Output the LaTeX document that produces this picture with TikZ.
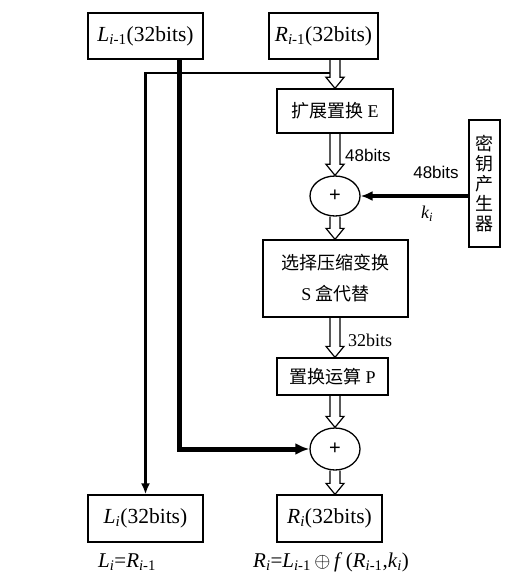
\documentclass[tikz,border=0pt]{standalone}
\usepackage{fontspec}
\setmainfont{Liberation Serif}
\newfontfamily\cjk{Noto Sans CJK SC}
\newfontfamily\arial{Liberation Sans}
\usetikzlibrary{calc,arrows.meta,shapes.geometric}
\tikzset{
  box/.style={draw, line width=1.3pt, inner sep=0pt, align=center, font=\fontsize{21.5}{23}\selectfont},
  cbox/.style={box, font=\cjk\fontsize{18}{31}\selectfont},
  xor/.style={ellipse, draw, line width=1.3pt, minimum width=50pt, minimum height=40pt, inner sep=0pt, font=\arial\fontsize{20}{20}\selectfont},
  hollow/.style={line width=1.2pt, line join=miter},
  thinline/.style={line width=2.5pt},
  thickline/.style={line width=5pt},
  lab/.style={inner sep=0pt, font=\fontsize{18}{20}\selectfont},
  flab/.style={inner sep=0pt, font=\fontsize{21}{22}\selectfont},
  slab/.style={inner sep=0pt, font=\arial\fontsize{17}{20}\selectfont},
}
\newcommand\harrow[2]{%
  \draw[hollow] let \p1=(#1), \p2=(#2) in
  (\x1-5pt,\y1) -- (\x1-5pt,\y2+11pt) -- (\x1-9pt,\y2+11pt) -- (\x1,\y2)
  -- (\x1+9pt,\y2+11pt) -- (\x1+5pt,\y2+11pt) -- (\x1+5pt,\y1);}
\begin{document}
\begin{tikzpicture}[x=1pt,y=-1pt]
\useasboundingbox (0,0) rectangle (524,585);
\coordinate (col) at (335,0);
\coordinate (lt) at (179,0);
\node[box, minimum width=115pt, minimum height=46pt] (Lp) at (145.5,36) {\textit{L}\textsubscript{\textit{i}-1}(32bits)};
\node[box, minimum width=109pt, minimum height=46pt] (Rp) at (323.5,36) {\textit{R}\textsubscript{\textit{i}-1}(32bits)};
\node[cbox, minimum width=116pt, minimum height=44pt] (E) at (335,111) {扩展置换 {\rmfamily E}};
\node[xor] (c1) at (335,196) {+};
\node[cbox, minimum width=31pt, minimum height=127pt, font=\cjk\fontsize{18}{20}\selectfont] (K) at (484.5,183.5) {密\\钥\\产\\生\\器};
\node[cbox, minimum width=145pt, minimum height=77pt] (S) at (335.5,278.5) {选择压缩变换\\{\rmfamily S} 盒代替};
\node[cbox, minimum width=111pt, minimum height=37pt] (P) at (332.5,376.5) {置换运算 {\rmfamily P}};
\node[xor, minimum height=42pt] (c2) at (335,449) {+};
\node[box, minimum width=115pt, minimum height=47pt] (Li) at (145.5,518.5) {\textit{L}\textsubscript{\textit{i}}(32bits)};
\node[box, minimum width=105pt, minimum height=47pt] (Ri) at (329.5,518.5) {\textit{R}\textsubscript{\textit{i}}(32bits)};
% hollow arrows
\harrow{Rp.south -| col}{E.north -| col}
\harrow{E.south -| col}{c1.north}
\harrow{c1.south}{S.north -| col}
\harrow{S.south -| col}{P.north -| col}
\harrow{P.south -| col}{c2.north}
\harrow{c2.south}{Ri.north -| col}
% thin line to L_i
\coordinate (tap) at (330,73);
\draw[thinline, -{Latex[length=11pt,width=9pt]}] (tap) -| (Li.north);
% thick line from L_{i-1}
\draw[thickline, -{Latex[length=14pt,width=12pt]}] (Lp.south -| lt) |- (c2.west);
% key arrow
\draw[line width=3pt, -{Latex[length=12pt,width=10pt]}] (K.west |- c1.east) -- (c1.east);
% labels
\node[slab, anchor=west] (l48a) at (345,155) {48bits};
\node[slab] (l48b) at (436,172) {48bits};
\node[lab] (lk) at (427,214) {\textit{k\textsubscript{i}}};
\node[lab, anchor=west] (l32) at (348,340) {32bits};
\node[flab, anchor=west] (fL) at (98,562) {\textit{L}\textsubscript{\textit{i}}=\textit{R}\textsubscript{\textit{i}-1}};
\node[flab, anchor=west] (fR) at (253,562) {\textit{R}\textsubscript{\textit{i}}=\textit{L}\textsubscript{\textit{i}-1}\,$\oplus$\,\textit{f}\,(\textit{R}\textsubscript{\textit{i}-1},\textit{k}\textsubscript{\textit{i}})};
\end{tikzpicture}
\end{document}
